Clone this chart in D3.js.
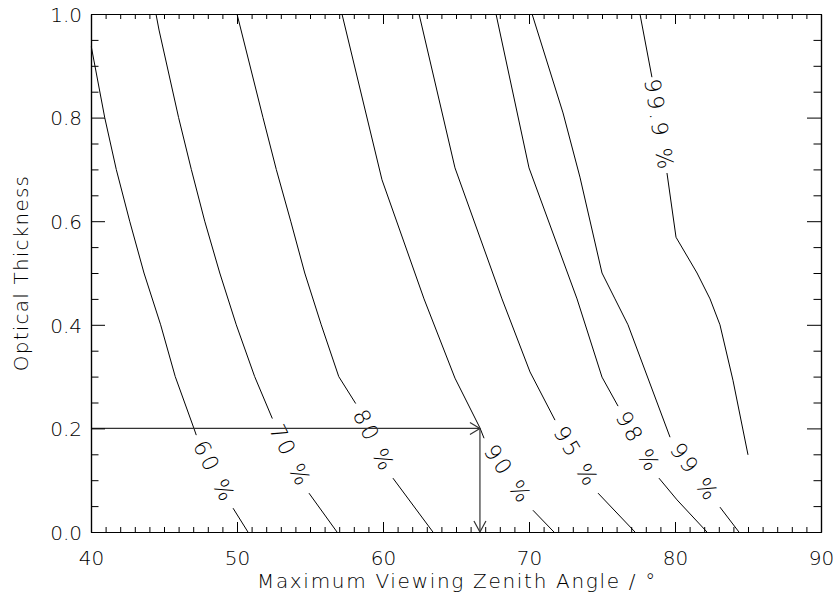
<!DOCTYPE html>
<html>
<head>
<meta charset="utf-8">
<script src="https://cdn.jsdelivr.net/npm/d3@7"></script>
<style>
  html, body { margin: 0; padding: 0; background: #fff; }
  svg { display: block; }
  text { font-family: "DejaVu Sans", sans-serif; font-weight: 200; fill: #000; }
</style>
</head>
<body>
<svg id="chart" width="834" height="597"></svg>
<script>
// Axis extents and ticks
const xDomain = [40, 90];
const yDomain = [0, 1];
const xMajorTicks = [40, 50, 60, 70, 80, 90];
const yMajorTicks = [0.0, 0.2, 0.4, 0.6, 0.8, 1.0];
const xMinorStep = 1;
const yMinorStep = 0.05;

// Contour levels; each line is [angle, optical thickness], null marks the label gap
const levelLabels = ["60 %", "70 %", "80 %", "90 %", "95 %", "98 %", "99 %", "99.9 %"];
const contour60 = [[40.02,0.937],[40.94,0.800],[41.73,0.700],[42.65,0.600],[43.63,0.500],[44.77,0.400],[45.77,0.300],[47.05,0.200],[47.21,0.187], null, [49.73,0.046],[50.75,0.0]];
const contour70 = [[44.45,1.0],[44.66,0.969],[46.0,0.800],[46.87,0.700],[47.79,0.600],[48.82,0.500],[49.95,0.400],[51.21,0.300],[52.42,0.219], null, [54.93,0.075],[56.85,0.0]];
const contour80 = [[50.0,1.0],[51.78,0.800],[52.69,0.700],[53.68,0.600],[54.64,0.500],[55.77,0.400],[56.97,0.300],[58.13,0.248], null, [60.68,0.104],[63.42,0.0]];
const contour90 = [[57.19,1.0],[59.93,0.680],[62.81,0.450],[64.93,0.297],[66.64,0.201],[66.92,0.181], null, [70.27,0.042],[71.71,0.0]];
const contour95 = [[62.47,1.0],[64.93,0.703],[68.15,0.450],[70.07,0.309],[71.78,0.216], null, [74.73,0.075],[77.26,0.0]];
const contour98 = [[67.74,1.0],[70.0,0.703],[73.29,0.450],[75.0,0.299],[76.1,0.243], null, [78.9,0.104],[80.14,0.062],[82.19,0.0]];
const contour99 = [[70.21,1.0],[72.33,0.809],[73.49,0.685],[75.0,0.5],[75.89,0.45],[76.78,0.4],[79.66,0.183], null, [83.08,0.048],[84.38,0.0]];
const contour999 = [[77.6,1.0],[78.42,0.878], null, [79.45,0.693],[80.07,0.569],[81.51,0.5],[82.4,0.45],[83.08,0.4],[83.97,0.293],[85.0,0.149]];
const contours = [contour60, contour70, contour80, contour90, contour95, contour98, contour99, contour999];

// Read-out: optical thickness 0.2 meets the 90 % line
const readoutTau = 0.2;
const readoutAngle = 66.64;

const xTitle = "Maximum Viewing Zenith Angle / °";
const yTitle = "Optical Thickness";

(function draw() {
  const svg = d3.select("#chart");
  const pLeft = 91, pRight = 821, pTop = 14, pBottom = 532;
  const fontSize = 20;

  const x = d3.scaleLinear().domain(xDomain).range([pLeft, pRight]);
  const y = d3.scaleLinear().domain(yDomain).range([pBottom, pTop]);

  // Contour lines
  const line = d3.line()
    .defined(d => d !== null)
    .x(d => x(d[0]))
    .y(d => y(d[1]));

  const g = svg.append("g");
  g.selectAll("path.contour")
    .data(contours)
    .join("path")
    .attr("class", "contour")
    .attr("d", line)
    .attr("fill", "none")
    .attr("stroke", "#000")
    .attr("stroke-width", 1);

  // Labels placed in each gap, oriented along it
  contours.forEach((c, i) => {
    const k = c.indexOf(null);
    const a = c[k - 1], b = c[k + 1];
    const ax = x(a[0]), ay = y(a[1]), bx = x(b[0]), by = y(b[1]);
    const mx = (ax + bx) / 2, my = (ay + by) / 2;
    const ang = Math.atan2(by - ay, bx - ax) * 180 / Math.PI;
    g.append("text")
      .attr("transform", `translate(${mx},${my}) rotate(${ang})`)
      .attr("text-anchor", "middle")
      .attr("dy", "0.36em")
      .attr("font-size", 22)
      .attr("letter-spacing", 2.8)
      .text(levelLabels[i]);
  });

  // Read-out arrows
  const arrowColor = "#333";
  const hx = x(readoutAngle), hy = y(readoutTau);
  svg.append("line")
    .attr("x1", x(xDomain[0])).attr("y1", hy)
    .attr("x2", hx).attr("y2", hy)
    .attr("stroke", arrowColor).attr("stroke-width", 1.2);
  svg.append("path")
    .attr("d", `M${hx - 10},${hy - 6}L${hx},${hy}L${hx - 10},${hy + 6}`)
    .attr("fill", "none").attr("stroke", arrowColor).attr("stroke-width", 1.2);
  const vy = y(yDomain[0]);
  svg.append("line")
    .attr("x1", hx).attr("y1", hy)
    .attr("x2", hx).attr("y2", vy)
    .attr("stroke", arrowColor).attr("stroke-width", 1.2);
  svg.append("path")
    .attr("d", `M${hx - 6},${vy - 11}L${hx},${vy}L${hx + 6},${vy - 11}`)
    .attr("fill", "none").attr("stroke", arrowColor).attr("stroke-width", 1.2);

  // Frame with inward ticks on all four sides
  const xMinor = d3.range(xDomain[0], xDomain[1] + 1e-9, xMinorStep).filter(v => !xMajorTicks.some(t => Math.abs(t - v) < 1e-9));
  const yMinor = d3.range(yDomain[0], yDomain[1] + 1e-9, yMinorStep).filter(v => !yMajorTicks.some(t => Math.abs(t - v) < 1e-9));

  const axB = d3.axisBottom(x).tickValues(xMajorTicks).tickSizeInner(-10).tickSizeOuter(0).tickFormat(d3.format("d"));
  const axT = d3.axisTop(x).tickValues(xMajorTicks).tickSizeInner(-10).tickSizeOuter(0).tickFormat("");
  const axL = d3.axisLeft(y).tickValues(yMajorTicks).tickSizeInner(-14).tickSizeOuter(0).tickFormat(d3.format(".1f"));
  const axR = d3.axisRight(y).tickValues(yMajorTicks).tickSizeInner(-14).tickSizeOuter(0).tickFormat("");

  const axBm = d3.axisBottom(x).tickValues(xMinor).tickSizeInner(-5).tickSizeOuter(0).tickFormat("");
  const axTm = d3.axisTop(x).tickValues(xMinor).tickSizeInner(-5).tickSizeOuter(0).tickFormat("");
  const axLm = d3.axisLeft(y).tickValues(yMinor).tickSizeInner(-7.5).tickSizeOuter(0).tickFormat("");
  const axRm = d3.axisRight(y).tickValues(yMinor).tickSizeInner(-7.5).tickSizeOuter(0).tickFormat("");

  function styleAxis(sel) {
    sel.select(".domain").attr("stroke", "#000").attr("stroke-width", 1.2);
    sel.selectAll(".tick line").attr("stroke", "#000").attr("stroke-width", 1);
    sel.selectAll(".tick text").attr("font-size", fontSize).attr("fill", "#000")
      .style("font-family", "'DejaVu Sans', sans-serif").style("font-weight", 200);
  }

  svg.append("g").attr("transform", `translate(0,${pBottom})`).call(axBm).call(styleAxis);
  svg.append("g").attr("transform", `translate(0,${pTop})`).call(axTm).call(styleAxis);
  svg.append("g").attr("transform", `translate(${pLeft},0)`).call(axLm).call(styleAxis);
  svg.append("g").attr("transform", `translate(${pRight},0)`).call(axRm).call(styleAxis);

  const gB = svg.append("g").attr("transform", `translate(0,${pBottom})`).call(axB).call(styleAxis);
  gB.selectAll(".tick text").attr("y", 0).attr("dy", 0).attr("transform", "translate(0,33)");
  svg.append("g").attr("transform", `translate(0,${pTop})`).call(axT).call(styleAxis);
  const gL = svg.append("g").attr("transform", `translate(${pLeft},0)`).call(axL).call(styleAxis);
  gL.selectAll(".tick text").attr("x", -9).attr("dy", "0.36em");
  svg.append("g").attr("transform", `translate(${pRight},0)`).call(axR).call(styleAxis);

  // Axis titles
  svg.append("text")
    .attr("x", 457)
    .attr("y", 588)
    .attr("text-anchor", "middle")
    .attr("font-size", fontSize)
    .attr("letter-spacing", 1.7)
    .text(xTitle);
  svg.append("text")
    .attr("transform", `translate(28,${(pTop + pBottom) / 2}) rotate(-90)`)
    .attr("text-anchor", "middle")
    .attr("font-size", fontSize)
    .attr("letter-spacing", 1.2)
    .text(yTitle);
})();
</script>
</body>
</html>
